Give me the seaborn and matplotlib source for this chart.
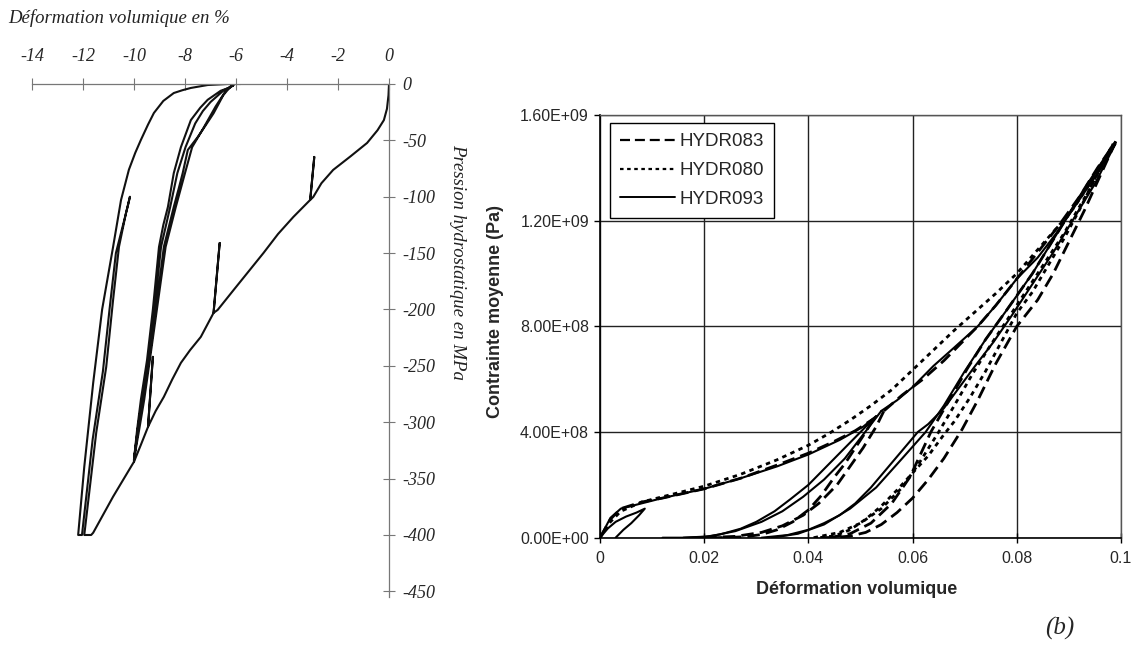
import matplotlib
matplotlib.use("Agg")
import matplotlib.pyplot as plt
import numpy as np
import pandas as pd
import seaborn as sns

sns.set_theme(style="white")
plt.rcParams["font.family"] = ["Liberation Sans", "DejaVu Sans"]
plt.rcParams["axes.unicode_minus"] = False

# ------------------------------------------------------------------
# Left panel data: volumetric strain (%) vs hydrostatic pressure (MPa)
# ------------------------------------------------------------------
left_load_x = [0, -0.02, -0.08, -0.2, -0.45, -0.86, -1.5, -2.19, -2.65, -2.97, -3.09, -2.93, -3.09,
               -3.75, -4.35, -4.92, -5.5, -6.09, -6.72, -6.88, -6.64, -6.88, -7.38, -7.8, -8.16,
               -8.5, -8.83, -9.15, -9.41, -9.45, -9.26, -9.45, -9.73, -10.0]
left_load_y = [0, -10, -22, -32, -41, -52.3, -64, -76.2, -88, -100.2, -102.8, -64.7, -102.8,
               -117.9, -133, -149.8, -166, -182.6, -200.4, -203, -141, -203, -224.3, -236, -247.3,
               -262, -277.5, -290, -302.3, -304.1, -242, -304.1, -320, -335]

cyc_a_x = [-10.0, -9.88, -9.73, -9.49, -9.26, -9.02, -8.85, -8.67, -8.44, -8.16, -7.77, -7.4, -7.11, -6.6, -6.29, -6.1]
cyc_a_y = [-333, -307, -280, -245, -200, -144.5, -125, -109, -79, -56, -32, -21, -14, -6, -3.5, -1]
cyc_b_x = [-6.1, -6.21, -6.5, -6.88, -7.2, -7.5, -7.89, -8.09, -8.25, -8.44, -8.83, -9.14, -9.41, -9.65, -9.84, -10.0]
cyc_b_y = [-1, -2, -10, -26, -37, -47, -58.5, -79, -93, -109, -144.5, -200, -245, -280, -307, -333]
cyc_c_x = [-10.0, -9.86, -9.69, -9.45, -9.2, -8.94, -8.58, -8.3, -7.98, -7.6, -7.3, -7.0, -6.5, -6.1]
cyc_c_y = [-333, -307, -280, -245, -200, -144.5, -109, -79, -56, -35, -24, -16, -6, -1]
cyc_d_x = [-6.1, -6.4, -6.8, -7.3, -7.72, -8.0, -8.36, -8.76, -9.1, -9.38, -9.6, -9.8, -10.0]
cyc_d_y = [-1, -6, -20, -40, -56, -79, -109, -144.5, -200, -245, -280, -307, -333]

left_final_x = [-10.0, -10.82, -11.6, -11.68, -11.95, -11.48, -11.09, -10.82, -10.59,
                -10.31, -10.16, -10.24, -10.43, -10.71, -10.96, -11.22, -11.62, -12.04,
                -12.19, -11.95, -11.6, -11.25, -10.82, -10.51, -10.2, -9.95, -9.73, -9.45, -9.22,
                -8.85, -8.44, -8.1, -7.77, -7.11, -6.33, -5.82]
left_final_y = [-335, -366, -398, -400, -400, -309, -251, -191.5, -144.5,
                -114, -100, -108, -125, -150, -200, -255, -315, -400,
                -400, -339.5, -265, -200, -144.5, -103, -76, -61, -49.6, -36, -25.7,
                -15, -8, -5.5, -3.5, -0.9, 0, 0]

left_xticks = [-14, -12, -10, -8, -6, -4, -2, 0]
left_xticklabels = ["-14", "-12", "-10", "-8", "-6", "-4", "-2", "0"]
left_yticks = [0, -50, -100, -150, -200, -250, -300, -350, -400, -450]
left_yticklabels = ["0", "-50", "-100", "-150", "-200", "-250", "-300", "-350", "-400", "-450"]

# ------------------------------------------------------------------
# Right panel data: volumetric strain vs mean stress (in 1e8 Pa)
# ------------------------------------------------------------------
h083_load1_x = [0, 0.002, 0.004, 0.008, 0.012, 0.02, 0.027, 0.034, 0.04, 0.045, 0.049, 0.0525]
h083_load1_y = [0, 0.7, 1.1, 1.35, 1.5, 1.85, 2.25, 2.75, 3.2, 3.65, 4.05, 4.5]
h083_unl1_x = [0.0525, 0.051, 0.049, 0.047, 0.045, 0.0425, 0.04, 0.037, 0.034, 0.031, 0.028, 0.025, 0.022]
h083_unl1_y = [4.5, 4.0, 3.4, 2.8, 2.3, 1.6, 1.05, 0.6, 0.3, 0.12, 0.04, 0.01, 0]
h083_rel1_x = [0.02, 0.026, 0.031, 0.035, 0.039, 0.042, 0.0455, 0.048, 0.0505, 0.053, 0.0545]
h083_rel1_y = [0, 0.05, 0.2, 0.45, 0.85, 1.3, 2.0, 2.7, 3.4, 4.2, 4.8]
h083_load2_x = [0.0545, 0.058, 0.062, 0.066, 0.0695, 0.0725, 0.076, 0.08, 0.084, 0.088, 0.092, 0.0955, 0.099]
h083_load2_y = [4.8, 5.4, 6.0, 6.7, 7.4, 8.0, 8.8, 9.8, 10.8, 11.8, 12.9, 14.0, 15.0]
h083_unl2_x = [0.099, 0.096, 0.093, 0.09, 0.087, 0.084, 0.08, 0.076, 0.0725, 0.0695, 0.066,
               0.063, 0.06, 0.057, 0.054, 0.051, 0.048, 0.045, 0.042]
h083_unl2_y = [15.0, 13.7, 12.4, 11.2, 10.0, 9.0, 8.0, 6.6, 5.2, 4.1, 3.0,
               2.2, 1.5, 0.95, 0.5, 0.2, 0.06, 0.01, 0]
h083_rel2_x = [0.044, 0.048, 0.052, 0.056, 0.0595, 0.0635, 0.067, 0.0705, 0.074, 0.078, 0.083, 0.088, 0.093, 0.099]
h083_rel2_y = [0, 0.15, 0.55, 1.3, 2.3, 4.0, 5.2, 6.4, 7.5, 8.6, 10.0, 11.6, 13.2, 15.0]

h080_load_x = [0, 0.002, 0.004, 0.008, 0.012, 0.02, 0.027, 0.034, 0.04, 0.044, 0.048, 0.052,
               0.056, 0.06, 0.064, 0.068, 0.072, 0.076, 0.08, 0.084, 0.088, 0.091, 0.094, 0.0985]
h080_load_y = [0, 0.6, 1.0, 1.35, 1.55, 1.95, 2.4, 2.95, 3.5, 3.95, 4.45, 5.0,
               5.6, 6.35, 7.1, 7.85, 8.55, 9.25, 10.0, 10.9, 11.8, 12.5, 13.4, 14.9]
h080_unl_x = [0.0985, 0.095, 0.092, 0.089, 0.086, 0.083, 0.08, 0.077, 0.074, 0.071, 0.068,
              0.066, 0.063, 0.06, 0.057, 0.054, 0.051, 0.048, 0.045, 0.042]
h080_unl_y = [14.9, 13.6, 12.4, 11.3, 10.3, 9.3, 8.5, 7.4, 6.3, 5.3, 4.4,
              3.9, 3.1, 2.45, 1.8, 1.2, 0.7, 0.3, 0.07, 0]
h080_rel_x = [0.041, 0.046, 0.05, 0.054, 0.058, 0.0615, 0.065, 0.068, 0.0715, 0.075, 0.079, 0.084, 0.089, 0.094, 0.0985]
h080_rel_y = [0, 0.2, 0.55, 1.1, 1.9, 2.9, 4.0, 5.0, 6.2, 7.3, 8.5, 10.0, 11.5, 13.2, 14.9]

h093_loop_x = [0, 0.0015, 0.003, 0.005, 0.007, 0.0086, 0.0075, 0.006, 0.0045, 0.0035, 0.003]
h093_loop_y = [0, 0.35, 0.6, 0.8, 0.95, 1.1, 0.85, 0.55, 0.3, 0.1, 0]
h093_load1_x = [0, 0.002, 0.004, 0.008, 0.012, 0.02, 0.027, 0.034, 0.04, 0.046, 0.0505, 0.053]
h093_load1_y = [0, 0.75, 1.1, 1.3, 1.5, 1.85, 2.25, 2.7, 3.15, 3.7, 4.2, 4.6]
h093_unl1_x = [0.053, 0.0505, 0.0475, 0.044, 0.04, 0.0365, 0.0335, 0.03, 0.027, 0.023, 0.02, 0.016, 0.012]
h093_unl1_y = [4.6, 4.1, 3.5, 2.8, 2.0, 1.45, 1.0, 0.6, 0.34, 0.12, 0.03, 0.0, 0.0]
h093_rel1_x = [0.016, 0.021, 0.026, 0.031, 0.035, 0.039, 0.043, 0.047, 0.0505, 0.054]
h093_rel1_y = [0, 0.05, 0.25, 0.6, 1.0, 1.55, 2.2, 3.0, 3.9, 4.8]
h093_load2_x = [0.054, 0.057, 0.06, 0.064, 0.068, 0.0725, 0.076, 0.08, 0.084, 0.0875, 0.091, 0.0955, 0.0989]
h093_load2_y = [4.8, 5.2, 5.7, 6.5, 7.2, 8.0, 8.8, 9.8, 10.6, 11.5, 12.5, 13.8, 14.9]
h093_unl2_x = [0.0989, 0.095, 0.091, 0.087, 0.083, 0.079, 0.0755, 0.072, 0.069, 0.066, 0.063,
               0.061, 0.058, 0.055, 0.052, 0.049, 0.046, 0.043, 0.04, 0.036, 0.031]
h093_unl2_y = [14.9, 13.4, 12.1, 10.8, 9.6, 8.4, 7.4, 6.5, 5.7, 4.9, 4.3,
               4.0, 3.3, 2.6, 1.9, 1.3, 0.85, 0.55, 0.3, 0.1, 0]
h093_rel2_x = [0.033, 0.038, 0.043, 0.048, 0.053, 0.058, 0.0625, 0.066, 0.07, 0.074, 0.078, 0.083, 0.088, 0.093, 0.0989]
h093_rel2_y = [0, 0.15, 0.5, 1.1, 1.9, 3.0, 4.0, 5.0, 6.3, 7.5, 8.6, 10.0, 11.6, 13.2, 14.9]

series_names = ["HYDR083", "HYDR080", "HYDR093"]
right_xticks = [0, 0.02, 0.04, 0.06, 0.08, 0.1]
right_xticklabels = ["0", "0.02", "0.04", "0.06", "0.08", "0.1"]
right_yticks = [0, 4e8, 8e8, 1.2e9, 1.6e9]
right_yticklabels = ["0.00E+00", "4.00E+08", "8.00E+08", "1.20E+09", "1.60E+09"]

# ------------------------------------------------------------------
# Build frames
# ------------------------------------------------------------------
left_parts = [(left_load_x, left_load_y), (cyc_a_x, cyc_a_y), (cyc_b_x, cyc_b_y),
              (cyc_c_x, cyc_c_y), (cyc_d_x, cyc_d_y), (left_final_x, left_final_y)]
lx, ly = [], []
for xs, ys in left_parts:
    lx += list(xs)
    ly += list(ys)
df_left = pd.DataFrame({"strain": lx, "pressure": ly})

right_segments = [
    ("HYDR083", h083_load1_x, h083_load1_y), ("HYDR083", h083_unl1_x, h083_unl1_y),
    ("HYDR083", h083_rel1_x, h083_rel1_y), ("HYDR083", h083_load2_x, h083_load2_y),
    ("HYDR083", h083_unl2_x, h083_unl2_y), ("HYDR083", h083_rel2_x, h083_rel2_y),
    ("HYDR080", h080_load_x, h080_load_y), ("HYDR080", h080_unl_x, h080_unl_y),
    ("HYDR080", h080_rel_x, h080_rel_y),
    ("HYDR093", h093_loop_x, h093_loop_y), ("HYDR093", h093_load1_x, h093_load1_y),
    ("HYDR093", h093_unl1_x, h093_unl1_y), ("HYDR093", h093_rel1_x, h093_rel1_y),
    ("HYDR093", h093_load2_x, h093_load2_y), ("HYDR093", h093_unl2_x, h093_unl2_y),
    ("HYDR093", h093_rel2_x, h093_rel2_y),
]
rows = []
for sid, (name, xs, ys) in enumerate(right_segments):
    for x, y in zip(xs, ys):
        rows.append({"test": name, "seg": sid, "strain": x, "stress": y * 1e8})
df_right = pd.DataFrame(rows)

# ------------------------------------------------------------------
# Figure
# ------------------------------------------------------------------
fig = plt.figure(figsize=(11.35, 6.55), dpi=100)
fig.patch.set_facecolor("white")

serif = ["Liberation Serif", "DejaVu Serif"]

# ---- Left panel ----
axl = fig.add_axes([32 / 1135, 1 - 597 / 655, 357 / 1135, 513 / 655])
sns.lineplot(data=df_left, x="strain", y="pressure", sort=False, estimator=None,
             color="#111111", linewidth=1.5, ax=axl, legend=False)
axl.set_xlim(-14, 0)
axl.set_ylim(-455, 0)
axl.set_facecolor("white")
for s in ["left", "bottom"]:
    axl.spines[s].set_visible(False)
for s in ["top", "right"]:
    axl.spines[s].set_color("#777777")
    axl.spines[s].set_linewidth(0.9)
axl.xaxis.tick_top()
axl.yaxis.tick_right()
axl.set_xticks(left_xticks)
axl.set_xticklabels(left_xticklabels, fontsize=13, fontstyle="italic", family=serif)
axl.set_yticks(left_yticks)
axl.set_yticklabels(left_yticklabels, fontsize=13, fontstyle="italic", family=serif, ha="left")
axl.tick_params(axis="x", direction="inout", length=9, width=0.8, color="#777777", pad=9, top=True, bottom=False)
axl.tick_params(axis="y", direction="inout", length=9, width=0.8, color="#777777", pad=5, right=True, left=False)
axl.set_xlabel("")
axl.set_ylabel("")
axl.grid(False)

fig.text(8 / 1135, 1 - 18 / 655, "Déformation volumique en %", fontsize=13.5,
         fontstyle="italic", family=serif, ha="left", va="center", color="#222222")
fig.text(458 / 1135, 1 - 262 / 655, "Pression hydrostatique en MPa", fontsize=13.5,
         fontstyle="italic", family=serif, ha="center", va="center", rotation=-90,
         color="#222222")

# ---- Right panel ----
axr = fig.add_axes([600 / 1135, 1 - 537.7 / 655, 521 / 1135, 422.7 / 655])
dash_map = {"HYDR083": (4.5, 2.2), "HYDR080": (1.6, 1.6), "HYDR093": ""}
sns.lineplot(data=df_right, x="strain", y="stress", style="test", units="seg",
             estimator=None, sort=False, color="black", dashes=dash_map,
             style_order=series_names, linewidth=2.0, ax=axr)
for ln in axr.lines:
    if ln.get_linestyle() == "-":
        ln.set_linewidth(1.5)
axr.set_xlim(0, 0.1)
axr.set_ylim(0, 1.6e9)
axr.set_xticks(right_xticks)
axr.set_xticklabels(right_xticklabels, fontsize=11.5)
axr.set_yticks(right_yticks)
axr.set_yticklabels(right_yticklabels, fontsize=11.5)
axr.tick_params(axis="x", direction="inout", length=7, width=1, color="black", pad=6, bottom=True)
axr.tick_params(axis="y", direction="out", length=4, width=1, color="black", pad=4, left=True)
axr.grid(True, color="#222222", linewidth=1.0)
axr.set_axisbelow(True)
for s in ["left", "bottom"]:
    axr.spines[s].set_color("black")
    axr.spines[s].set_linewidth(1.2)
for s in ["top", "right"]:
    axr.spines[s].set_color("#555555")
    axr.spines[s].set_linewidth(1.0)
axr.set_xlabel("")
axr.set_ylabel("")

handles, labels = axr.get_legend_handles_labels()
leg = axr.legend(handles, labels, loc="upper left", bbox_to_anchor=(0.019, 0.981),
                 borderaxespad=0, frameon=True, fancybox=False, fontsize=13.5,
                 handlelength=2.9, handletextpad=0.25, labelspacing=0.62,
                 borderpad=0.55, framealpha=1)
leg.get_frame().set_edgecolor("black")
leg.get_frame().set_linewidth(1.0)
for h in leg.get_lines():
    h.set_color("black")
    if h.get_linestyle() == "-":
        h.set_linewidth(1.4)
    else:
        h.set_linewidth(1.6)

fig.text(495 / 1135, 1 - 312 / 655, "Contrainte moyenne (Pa)", fontsize=13,
         fontweight="bold", ha="center", va="center", rotation=90)
fig.text(857 / 1135, 1 - 590 / 655, "Déformation volumique", fontsize=13,
         fontweight="bold", ha="center", va="center")
fig.text(1060 / 1135, 1 - 628 / 655, "(b)", fontsize=18, fontstyle="italic",
         family=serif, ha="center", va="center")

fig.savefig("out.png", dpi=100, facecolor="white")
